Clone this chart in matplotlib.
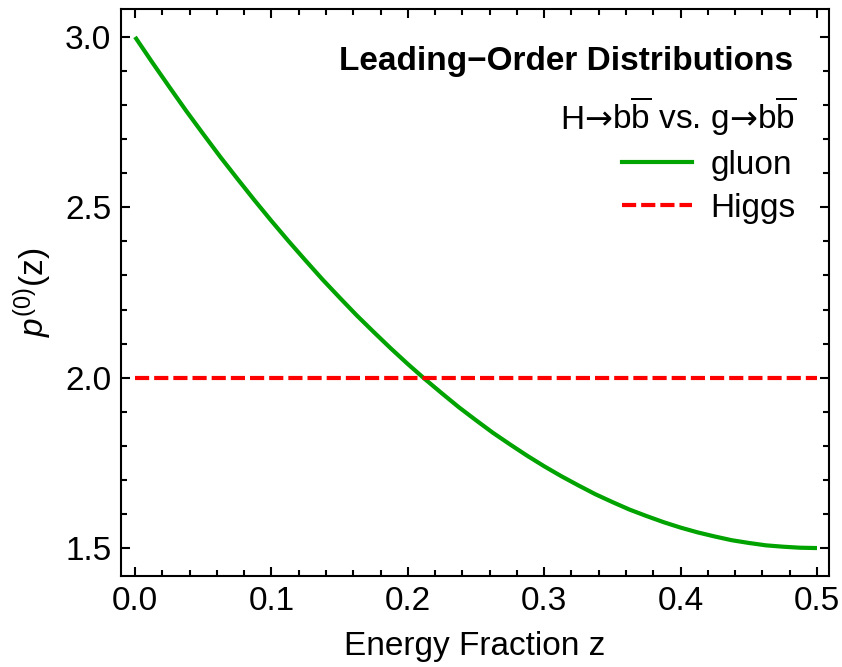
import matplotlib
matplotlib.use("Agg")
import matplotlib.pyplot as plt
from matplotlib.lines import Line2D
from matplotlib.ticker import MultipleLocator

plt.rcParams['font.family'] = ['Liberation Sans', 'DejaVu Sans']
plt.rcParams['mathtext.fontset'] = 'custom'
plt.rcParams['mathtext.rm'] = 'Liberation Sans'
plt.rcParams['mathtext.it'] = 'Liberation Sans:italic'
plt.rcParams['mathtext.bf'] = 'Liberation Sans:bold'

# Data
z_values = [0.0, 0.0125, 0.025, 0.0375, 0.05, 0.0625, 0.075, 0.0875, 0.1, 0.1125,
            0.125, 0.1375, 0.15, 0.1625, 0.175, 0.1875, 0.2, 0.2125, 0.225, 0.2375,
            0.25, 0.2625, 0.275, 0.2875, 0.3, 0.3125, 0.325, 0.3375, 0.35, 0.3625,
            0.375, 0.3875, 0.4, 0.4125, 0.425, 0.4375, 0.45, 0.4625, 0.475, 0.4875, 0.5]
gluon_values = [3.0, 2.926, 2.854, 2.783, 2.715, 2.648, 2.584, 2.521, 2.46, 2.401,
                2.344, 2.288, 2.235, 2.183, 2.134, 2.086, 2.04, 1.996, 1.954, 1.913,
                1.875, 1.838, 1.804, 1.771, 1.74, 1.711, 1.684, 1.658, 1.635, 1.613,
                1.594, 1.576, 1.56, 1.546, 1.534, 1.523, 1.515, 1.508, 1.504, 1.501, 1.5]
higgs_z = [0.0, 0.5]
higgs_values = [2.0, 2.0]
x_ticks = [0.0, 0.1, 0.2, 0.3, 0.4, 0.5]
x_ticklabels = ['0.0', '0.1', '0.2', '0.3', '0.4', '0.5']
y_ticks = [1.5, 2.0, 2.5, 3.0]
y_ticklabels = ['1.5', '2.0', '2.5', '3.0']

green = '#00A300'
red = '#FF0000'
fs = 24

fig = plt.figure(figsize=(8.42, 6.67), dpi=100)
ax = fig.add_axes([121/842, 1 - 576/667, (829-121)/842, (576-9)/667])

lw = 3.0
ax.plot(z_values, gluon_values, color=green, lw=lw, solid_capstyle='butt',
        solid_joinstyle='round')
ax.plot(higgs_z, higgs_values, color=red, lw=lw, dashes=(3.4, 1.2))

ax.set_xlim(-0.0103, 0.5088)
ax.set_ylim(1.418, 3.082)
ax.set_xticks(x_ticks)
ax.set_xticklabels(x_ticklabels)
ax.set_yticks(y_ticks)
ax.set_yticklabels(y_ticklabels)
ax.xaxis.set_minor_locator(MultipleLocator(0.02))
ax.yaxis.set_minor_locator(MultipleLocator(0.1))
ax.tick_params(which='both', direction='in', top=True, right=True, width=1.5,
               labelsize=fs, colors='black')
ax.tick_params(which='major', length=6.5, pad=7)
ax.tick_params(which='minor', length=4)
for s in ax.spines.values():
    s.set_linewidth(1.5)

ax.set_xlabel('Energy Fraction z', fontsize=fs, labelpad=10)
ax.set_ylabel(r'$p^{\mathrm{(0)}}\mathrm{(z)}$', fontsize=fs, labelpad=8)

ax.text(793, 667 - 70, 'Leading\u2212Order Distributions', transform=None,
        ha='right', va='baseline', fontsize=fs, fontweight='bold')

# Subtitle built from pieces so the arrow keeps a tight, full-size glyph
renderer = fig.canvas.get_renderer()
pieces = [('H', ['Liberation Sans'], 0),
          ('\u2192', ['DejaVu Sans'], 0),
          (r'b$\overline{\mathrm{b}}$ vs. g', ['Liberation Sans'], 0),
          ('\u2192', ['DejaVu Sans'], 0),
          (r'b$\overline{\mathrm{b}}$', ['Liberation Sans'], 0)]
objs = []
total = 0.0
for s, fam, gap in pieces:
    t = ax.text(0, 667 - 129, s, transform=None, ha='left', va='baseline',
                fontsize=fs, family=fam)
    w = t.get_window_extent(renderer).width
    objs.append((t, w, gap))
    total += w + gap
x = 796 - total
for t, w, gap in objs:
    t.set_x(x)
    x += w + gap

handles = [Line2D([], [], color=green, lw=lw),
           Line2D([], [], color=red, lw=lw, dashes=(3.4, 1.2))]
leg = ax.legend(handles, ['gluon', 'Higgs'], loc='upper left',
                bbox_to_anchor=((622-121)/708, (576-150)/567), frameon=False,
                fontsize=fs, handlelength=2.1, handletextpad=0.55, labelspacing=0.36,
                borderaxespad=0, borderpad=0)

fig.savefig('out.png', dpi=100)
